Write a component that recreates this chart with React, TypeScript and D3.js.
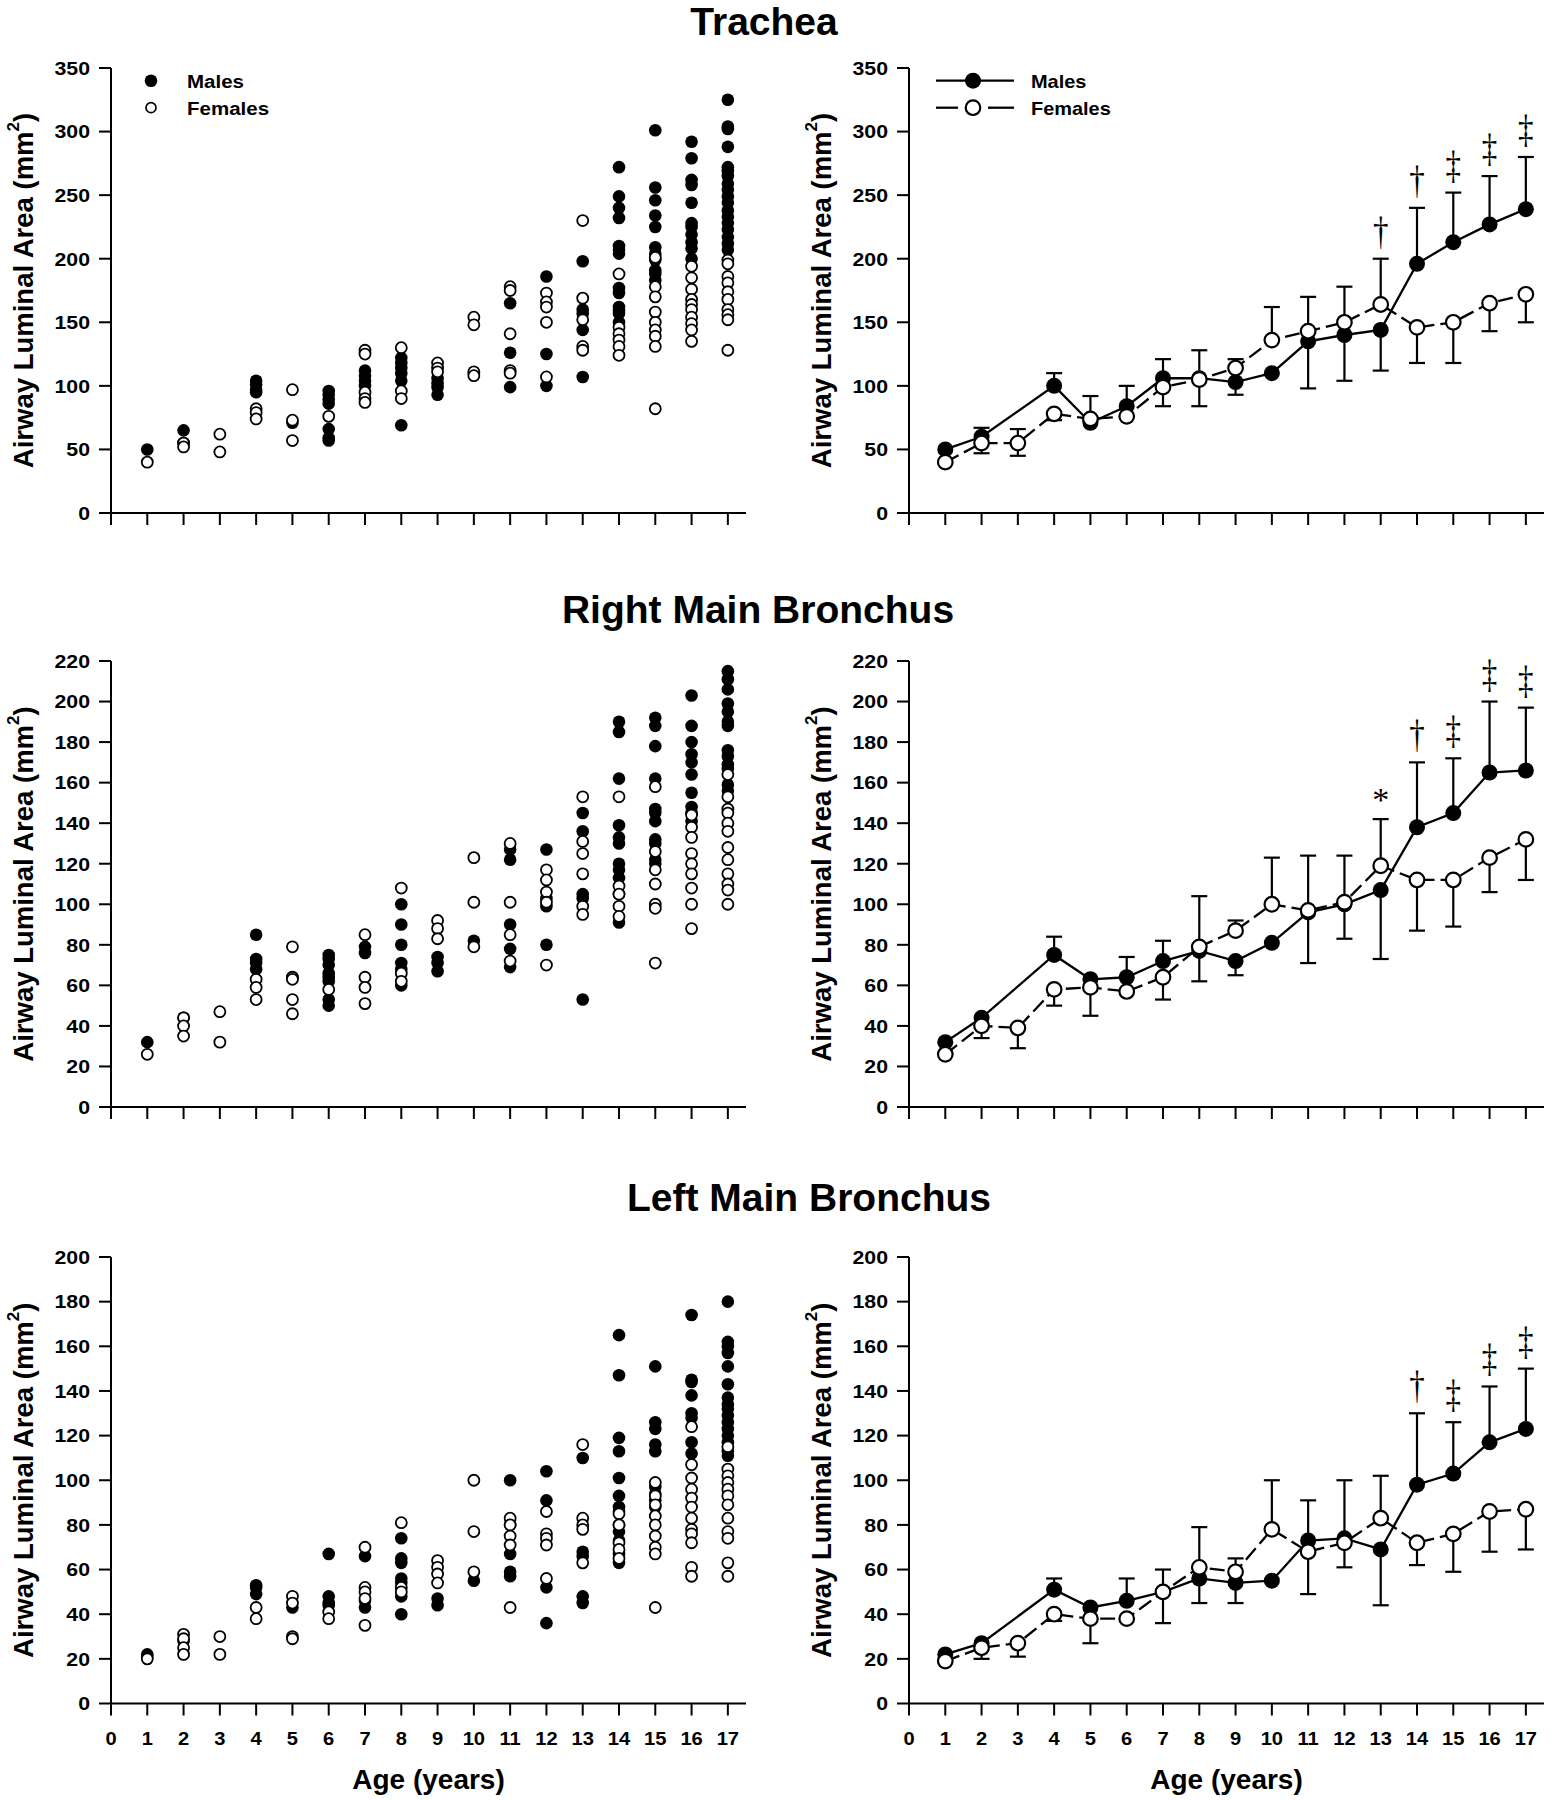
import React from "react";
import * as d3 from "d3";

// ---------------- DATA ----------------
const AGES = [1, 2, 3, 4, 5, 6, 7, 8, 9, 10, 11, 12, 13, 14, 15, 16, 17];
const X_TICKS = [0, 1, 2, 3, 4, 5, 6, 7, 8, 9, 10, 11, 12, 13, 14, 15, 16, 17];
const TRACHEA_Y_TICKS = [0, 50, 100, 150, 200, 250, 300, 350];
const RMB_Y_TICKS = [0, 20, 40, 60, 80, 100, 120, 140, 160, 180, 200, 220];
const LMB_Y_TICKS = [0, 20, 40, 60, 80, 100, 120, 140, 160, 180, 200];
const TITLES = ["Trachea", "Right Main Bronchus", "Left Main Bronchus"];
const SERIES_NAMES = ["Males", "Females"];

// Individual measurements (age, values)
const tracheaMaleScatter: [number, number[]][] = [
  [1, [50]], [2, [65, 55]], [4, [104, 101, 97, 95]], [5, [71]], [6, [96, 93, 89, 86, 66, 59, 57]],
  [7, [112, 108, 104, 100]], [8, [122, 118, 114, 110, 104, 69]], [9, [106, 102, 99, 93]], [10, [110]],
  [11, [165, 126, 99]], [12, [186, 125, 100]], [13, [198, 160, 157, 144, 107]],
  [14, [272, 249, 240, 232, 210, 207, 204, 177, 173, 162, 159, 157, 150]],
  [15, [301, 256, 246, 234, 225, 209, 204, 199, 191, 188, 183]],
  [16, [292, 279, 262, 258, 244, 228, 225, 219, 213, 208, 200]],
  [17, [325, 304, 302, 288, 272, 269, 265, 259, 254, 249, 244, 238, 233, 228, 223, 217, 212, 207]],
];
const tracheaFemaleScatter: [number, number[]][] = [
  [1, [40]], [2, [55, 52]], [3, [62, 48]], [4, [82, 79, 74]], [5, [97, 73, 57]], [6, [76]],
  [7, [128, 125, 95, 90, 87]], [8, [130, 96, 90]], [9, [118, 114, 111]], [10, [154, 148, 111, 108]],
  [11, [178, 175, 141, 112, 110]], [12, [173, 166, 162, 150, 107]], [13, [230, 169, 152, 131, 128]],
  [14, [188, 146, 141, 136, 131, 124]], [15, [201, 178, 170, 158, 150, 144, 139, 131, 82]],
  [16, [194, 185, 176, 168, 164, 160, 154, 149, 144, 135]],
  [17, [199, 196, 186, 181, 174, 168, 160, 156, 152, 128]],
];
const rmbMaleScatter: [number, number[]][] = [
  [1, [32]], [2, [44]], [4, [85, 73, 71, 68]], [5, [64]], [6, [75, 73, 70, 66, 64, 62, 53, 50]],
  [7, [79, 76]], [8, [100, 90, 80, 71, 68, 60]], [9, [74, 71, 67]], [10, [82]],
  [11, [127, 122, 90, 78, 69]], [12, [127, 103, 99, 80]], [13, [145, 136, 105, 103, 53]],
  [14, [190, 185, 162, 139, 133, 130, 120, 117, 113, 105, 91]],
  [15, [192, 188, 178, 162, 147, 145, 141, 132, 130, 122, 120]],
  [16, [203, 188, 180, 174, 170, 164, 155, 148, 145, 141]],
  [17, [215, 211, 206, 199, 195, 190, 188, 176, 173, 169, 167, 159, 156]],
];
const rmbFemaleScatter: [number, number[]][] = [
  [1, [26]], [2, [44, 40, 35]], [3, [47, 32]], [4, [63, 59, 53]], [5, [79, 64, 63, 53, 46]], [6, [58]],
  [7, [85, 64, 59, 51]], [8, [108, 66, 62]], [9, [92, 88, 83]], [10, [123, 101, 79]],
  [11, [130, 101, 85, 72]], [12, [117, 112, 106, 101, 70]], [13, [153, 131, 125, 115, 99, 95]],
  [14, [153, 109, 105, 99, 94]], [15, [158, 126, 117, 110, 100, 98, 71]],
  [16, [144, 138, 133, 125, 120, 115, 108, 100, 88]],
  [17, [164, 153, 147, 145, 140, 136, 128, 122, 115, 110, 107, 100]],
];
const lmbMaleScatter: [number, number[]][] = [
  [1, [22, 21]], [2, [28]], [4, [53, 52, 49]], [5, [43]], [6, [67, 48, 45, 44]], [7, [66, 46, 43]],
  [8, [74, 65, 63, 56, 54, 48, 40]], [9, [47, 44]], [10, [55]], [11, [100, 80, 67, 59, 57]],
  [12, [104, 91, 52, 36]], [13, [110, 68, 66, 48, 45]],
  [14, [165, 147, 119, 113, 101, 93, 88, 86, 80, 77, 73, 67, 63]],
  [15, [151, 126, 123, 116, 113, 97, 94, 91, 88]],
  [16, [174, 145, 144, 138, 130, 128, 117, 112]],
  [17, [180, 162, 160, 157, 151, 143, 137, 134, 132, 129, 126, 123, 120, 117, 113, 111]],
];
const lmbFemaleScatter: [number, number[]][] = [
  [1, [20]], [2, [31, 29, 25, 22]], [3, [30, 22]], [4, [43, 38]], [5, [48, 45, 30, 29]], [6, [41, 38]],
  [7, [70, 52, 50, 47, 35]], [8, [81, 52, 50]], [9, [64, 61, 58, 54]], [10, [100, 77, 59]],
  [11, [83, 80, 75, 71, 43]], [12, [86, 76, 74, 71, 56]], [13, [116, 83, 80, 78, 63]],
  [14, [85, 80, 72, 69, 65]], [15, [99, 93, 89, 84, 80, 75, 70, 67, 43]],
  [16, [124, 107, 101, 96, 92, 88, 83, 78, 76, 72, 61, 57]],
  [17, [115, 105, 102, 99, 96, 93, 89, 83, 77, 74, 63, 57]],
];

// Means by age (1..17) and error-bar end values (null = not drawn)
const N = null;
const tracheaMaleMean = [50, 60, N, 100, 71, 84, 106, 106, 103, 110, 135, 140, 144, 196, 213, 227, 239];
const tracheaFemaleMean = [40, 55, 55, 78, 74, 76, 99, 105, 114, 136, 143, 150, 164, 146, 150, 165, 172];
const tracheaMaleUp = [N, 67, N, 110, N, 100, 121, 128, N, N, N, N, N, 240, 252, 265, 280];
const tracheaMaleDown = [N, N, N, N, N, N, N, N, 93, N, 98, 104, 112, N, N, N, N];
const tracheaFemaleUp = [N, N, 66, N, 92, N, N, N, 121, 162, 170, 178, 200, N, N, N, N];
const tracheaFemaleDown = [N, 47, 45, 73, N, N, 84, 84, N, N, N, N, N, 118, 118, 143, 150];
const tracheaSig = ["", "", "", "", "", "", "", "", "", "", "", "", "†", "†", "‡", "‡", "‡"];

const rmbMaleMean = [32, 44, N, 75, 63, 64, 72, 77, 72, 81, 96, 100, 107, 138, 145, 165, 166];
const rmbFemaleMean = [26, 40, 39, 58, 59, 57, 64, 79, 87, 100, 97, 101, 119, 112, 112, 123, 132];
const rmbMaleUp = [N, N, N, 84, N, 74, 82, N, N, N, 124, 124, N, 170, 172, 200, 197];
const rmbMaleDown = [N, N, N, N, N, N, N, 62, 65, N, N, N, 73, N, N, N, N];
const rmbFemaleUp = [N, N, N, N, N, N, N, 104, 92, 123, N, N, 142, N, N, N, N];
const rmbFemaleDown = [N, 34, 29, 50, 45, N, 53, N, N, N, 71, 83, N, 87, 89, 106, 112];
const rmbSig = ["", "", "", "", "", "", "", "", "", "", "", "", "*", "†", "‡", "‡", "‡"];

const lmbMaleMean = [22, 27, N, 51, 43, 46, 50, 56, 54, 55, 73, 74, 69, 98, 103, 117, 123];
const lmbFemaleMean = [19, 25, 27, 40, 38, 38, 50, 61, 59, 78, 68, 72, 83, 72, 76, 86, 87];
const lmbMaleUp = [N, N, N, 56, N, 56, 60, N, N, N, 91, 100, N, 130, 126, 142, 150];
const lmbMaleDown = [N, N, N, N, N, N, N, 45, 45, N, N, N, 44, N, N, N, N];
const lmbFemaleUp = [N, N, N, N, N, N, N, 79, 65, 100, N, N, 102, N, N, N, N];
const lmbFemaleDown = [N, 20, 21, 37, 27, N, 36, N, N, N, 49, 61, N, 62, 59, 68, 69];
const lmbSig = ["", "", "", "", "", "", "", "", "", "", "", "", "", "†", "‡", "‡", "‡"];

// ---------------- LAYOUT ----------------
const W = 1552;
const H = 1800;
const SANS = "'Liberation Sans', Arial, Helvetica, sans-serif";
const SERIF = "'Liberation Serif', 'Times New Roman', serif";
const ROWS = [
  { top: 68, bottom: 513, titleX: 764, titleY: 35 },
  { top: 661, bottom: 1107, titleX: 758, titleY: 623 },
  { top: 1257, bottom: 1703.5, titleX: 809, titleY: 1211 },
];
const COLS = [111, 909];
const XW = 635;

function STxt({ x, y, sx = 1, anchor = "start", size, weight = "bold", family = SANS, children }: any) {
  return (
    <g transform={`translate(${x},${y}) scale(${sx},1)`}>
      <text x={0} y={0} textAnchor={anchor} fontSize={size} fontWeight={weight} fontFamily={family} fill="#000">
        {children}
      </text>
    </g>
  );
}

function Axes({ x0, row, y, yTicks, showX }: any) {
  const x = d3.scaleLinear().domain([0, 17.5]).range([x0, x0 + XW]);
  const cy = (row.top + row.bottom) / 2;
  return (
    <g>
      <line x1={x0} x2={x0} y1={row.top} y2={row.bottom} stroke="#000" strokeWidth={2} />
      <line x1={x0} x2={x0 + XW} y1={row.bottom} y2={row.bottom} stroke="#000" strokeWidth={2} />
      {yTicks.map((t: number) => (
        <g key={"y" + t}>
          <line x1={x0 - 12} x2={x0} y1={y(t)} y2={y(t)} stroke="#000" strokeWidth={2} />
          <STxt x={x0 - 21} y={y(t) + 6.8} size={19} sx={1.12} anchor="end">{t}</STxt>
        </g>
      ))}
      {X_TICKS.map((t) => (
        <g key={"x" + t}>
          <line x1={x(t)} x2={x(t)} y1={row.bottom} y2={row.bottom + 12} stroke="#000" strokeWidth={2} />
          {showX && <STxt x={x(t)} y={row.bottom + 41} size={19} sx={1.06} anchor="middle">{t}</STxt>}
        </g>
      ))}
      <g transform={`translate(${x0 - 88},${cy}) rotate(-90)`}>
        <text textAnchor="middle" dominantBaseline="central" fontSize={27.5} fontWeight="bold" fontFamily={SANS}>
          Airway Luminal Area (mm<tspan dy={-10} fontSize={17}>2</tspan><tspan dy={10}>)</tspan>
        </text>
      </g>
      {showX && (
        <STxt x={x0 + XW / 2} y={row.bottom + 85} size={28} anchor="middle">Age (years)</STxt>
      )}
    </g>
  );
}

function ScatterPanel({ x0, row, yMax, yTicks, males, females, showLegend, showX }: any) {
  const x = d3.scaleLinear().domain([0, 17.5]).range([x0, x0 + XW]);
  const y = d3.scaleLinear().domain([0, yMax]).range([row.bottom, row.top]);
  const flat = (arr: [number, number[]][]) => arr.flatMap(([a, vs]) => vs.map((v) => [a, v]));
  return (
    <g>
      <Axes x0={x0} row={row} y={y} yTicks={yTicks} showX={showX} />
      {flat(males).map(([a, v], i) => (
        <circle key={"m" + i} cx={x(a)} cy={y(v)} r={6.3} fill="#000" />
      ))}
      {flat(females).map(([a, v], i) => (
        <circle key={"f" + i} cx={x(a)} cy={y(v)} r={5.5} fill="#fff" stroke="#000" strokeWidth={1.8} />
      ))}
      {showLegend && (
        <g>
          <circle cx={x0 + 40} cy={row.top + 12.7} r={6.3} fill="#000" />
          <circle cx={x0 + 40} cy={row.top + 39.7} r={5} fill="#fff" stroke="#000" strokeWidth={1.7} />
          <STxt x={x0 + 76} y={row.top + 19.5} size={19} sx={1.08}>{SERIES_NAMES[0]}</STxt>
          <STxt x={x0 + 76} y={row.top + 46.5} size={19} sx={1.08}>{SERIES_NAMES[1]}</STxt>
        </g>
      )}
    </g>
  );
}

function MeanPanel({ x0, row, yMax, yTicks, mMean, fMean, mUp, mDown, fUp, fDown, sig, showLegend, showX }: any) {
  const x = d3.scaleLinear().domain([0, 17.5]).range([x0, x0 + XW]);
  const y = d3.scaleLinear().domain([0, yMax]).range([row.bottom, row.top]);
  const pts = (arr: (number | null)[]) =>
    AGES.map((a, i) => [a, arr[i]] as [number, number | null]).filter((d) => d[1] != null) as [number, number][];
  const line = d3.line<[number, number]>().x((d) => x(d[0])).y((d) => y(d[1]));
  const bars: { a: number; from: number; to: number }[] = [];
  AGES.forEach((a, i) => {
    if (mUp[i] != null) bars.push({ a, from: mMean[i], to: mUp[i] });
    if (mDown[i] != null) bars.push({ a, from: mMean[i], to: mDown[i] });
    if (fUp[i] != null) bars.push({ a, from: fMean[i], to: fUp[i] });
    if (fDown[i] != null) bars.push({ a, from: fMean[i], to: fDown[i] });
  });
  const lx = x0 + 27;
  return (
    <g>
      <Axes x0={x0} row={row} y={y} yTicks={yTicks} showX={showX} />
      {bars.map((b, i) => (
        <g key={"b" + i} stroke="#000" strokeWidth={2.2}>
          <line x1={x(b.a)} x2={x(b.a)} y1={y(b.from)} y2={y(b.to)} />
          <line x1={x(b.a) - 8} x2={x(b.a) + 8} y1={y(b.to)} y2={y(b.to)} />
        </g>
      ))}
      <path d={line(pts(mMean)) || ""} fill="none" stroke="#000" strokeWidth={2.3} />
      <path d={line(pts(fMean)) || ""} fill="none" stroke="#000" strokeWidth={2.3} strokeDasharray="15 6" />
      {pts(mMean).map(([a, v]) => (
        <circle key={"mm" + a} cx={x(a)} cy={y(v)} r={8} fill="#000" />
      ))}
      {pts(fMean).map(([a, v]) => (
        <circle key={"fm" + a} cx={x(a)} cy={y(v)} r={7.3} fill="#fff" stroke="#000" strokeWidth={2.2} />
      ))}
      {AGES.map((a, i) => {
        if (!sig[i]) return null;
        const top = Math.max(mUp[i] ?? mMean[i] ?? 0, fUp[i] ?? fMean[i] ?? 0);
        const isStar = sig[i] === "*";
        return (
          <g key={"s" + a} transform={`translate(${x(a)},${y(top) - (isStar ? 8 : 15)}) scale(1,${isStar ? 1 : 1.28})`}>
            <text x={0} y={0} textAnchor="middle" fontSize={isStar ? 34 : 31} fontFamily={SERIF} fill="#000">
              {sig[i]}
            </text>
          </g>
        );
      })}
      {showLegend && (
        <g>
          <line x1={lx} x2={lx + 78} y1={row.top + 12.7} y2={row.top + 12.7} stroke="#000" strokeWidth={2.3} />
          <circle cx={lx + 37} cy={row.top + 12.7} r={8} fill="#000" />
          <line x1={lx} x2={lx + 22} y1={row.top + 39.7} y2={row.top + 39.7} stroke="#000" strokeWidth={2.3} />
          <line x1={lx + 52} x2={lx + 78} y1={row.top + 39.7} y2={row.top + 39.7} stroke="#000" strokeWidth={2.3} />
          <circle cx={lx + 37} cy={row.top + 39.7} r={7.3} fill="#fff" stroke="#000" strokeWidth={2.2} />
          <STxt x={x0 + 122} y={row.top + 19.5} size={19} sx={1.05}>{SERIES_NAMES[0]}</STxt>
          <STxt x={x0 + 122} y={row.top + 46.5} size={19} sx={1.05}>{SERIES_NAMES[1]}</STxt>
        </g>
      )}
    </g>
  );
}

export default function App() {
  const panels = [
    { yMax: 350, yTicks: TRACHEA_Y_TICKS, sm: tracheaMaleScatter, sf: tracheaFemaleScatter,
      mMean: tracheaMaleMean, fMean: tracheaFemaleMean, mUp: tracheaMaleUp, mDown: tracheaMaleDown,
      fUp: tracheaFemaleUp, fDown: tracheaFemaleDown, sig: tracheaSig },
    { yMax: 220, yTicks: RMB_Y_TICKS, sm: rmbMaleScatter, sf: rmbFemaleScatter,
      mMean: rmbMaleMean, fMean: rmbFemaleMean, mUp: rmbMaleUp, mDown: rmbMaleDown,
      fUp: rmbFemaleUp, fDown: rmbFemaleDown, sig: rmbSig },
    { yMax: 200, yTicks: LMB_Y_TICKS, sm: lmbMaleScatter, sf: lmbFemaleScatter,
      mMean: lmbMaleMean, fMean: lmbFemaleMean, mUp: lmbMaleUp, mDown: lmbMaleDown,
      fUp: lmbFemaleUp, fDown: lmbFemaleDown, sig: lmbSig },
  ];
  return (
    <svg width={W} height={H} viewBox={`0 0 ${W} ${H}`}
      style={{ position: "absolute", left: 0, top: 0, display: "block", background: "#fff" }}>
      <rect x={0} y={0} width={W} height={H} fill="#fff" />
      {panels.map((p, r) => {
        const row = ROWS[r];
        return (
          <g key={r}>
            <text x={row.titleX} y={row.titleY} textAnchor="middle" fontSize={39} fontWeight="bold" fontFamily={SANS}>
              {TITLES[r]}
            </text>
            <ScatterPanel x0={COLS[0]} row={row} yMax={p.yMax} yTicks={p.yTicks} males={p.sm} females={p.sf}
              showLegend={r === 0} showX={r === 2} />
            <MeanPanel x0={COLS[1]} row={row} yMax={p.yMax} yTicks={p.yTicks} mMean={p.mMean} fMean={p.fMean}
              mUp={p.mUp} mDown={p.mDown} fUp={p.fUp} fDown={p.fDown} sig={p.sig}
              showLegend={r === 0} showX={r === 2} />
          </g>
        );
      })}
    </svg>
  );
}
